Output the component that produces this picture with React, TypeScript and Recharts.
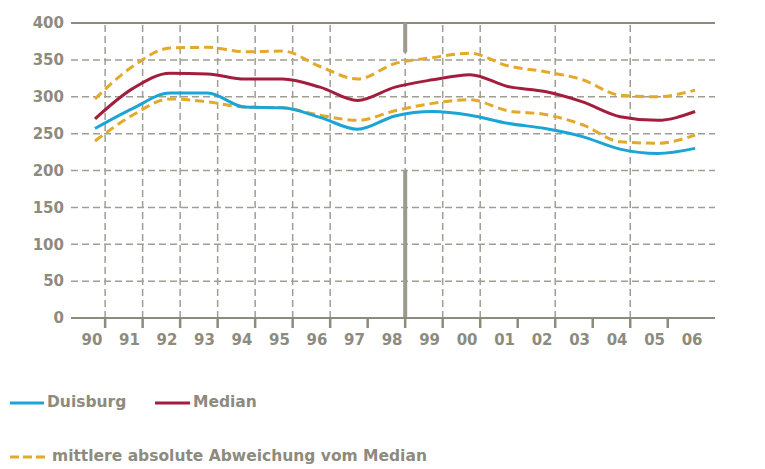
import React from 'react';
import { LineChart, Line, XAxis, YAxis, CartesianGrid, ReferenceLine } from 'recharts';

const years = ['90', '91', '92', '93', '94', '95', '96', '97', '98', '99', '00', '01', '02', '03', '04', '05', '06'];
const duisburg = [257, 284, 305, 305, 286, 285, 272, 256, 274, 280, 275, 264, 257, 246, 229, 223, 230];
const median = [270, 311, 332, 331, 324, 324, 313, 295, 313, 323, 330, 314, 307, 293, 273, 268, 280];
const upperDev = [297, 341, 366, 367, 361, 362, 341, 324, 345, 353, 359, 342, 334, 323, 302, 300, 309];
const lowerDev = [240, 275, 297, 293, 286, 285, 275, 268, 281, 291, 296, 281, 276, 262, 239, 237, 248];
const yTicks = [0, 50, 100, 150, 200, 250, 300, 350, 400];
const gridYears = ['90', '91', '92', '93', '94', '95', '96', '99', '00', '02', '04'];
const heavyYear = '98';

const TICK_SHIFT = 0.27;
const GREY = '#8d8b7e';
const GRID = '#a09e93';
const FONT = '"DejaVu Sans", sans-serif';

const data = years.map((y, i) => ({
  x: i,
  year: y,
  duisburg: duisburg[i],
  median: median[i],
  upper: upperDev[i],
  lower: lowerDev[i],
}));

const XTick = (props: any) => {
  const { x, y, payload, index } = props;
  const shiftPx = 37.5 * TICK_SHIFT;
  return (
    <g>
      {index < years.length - 1 && (
        <line x1={x + shiftPx} x2={x + shiftPx} y1={y - 1} y2={y + 8} stroke={GREY} strokeWidth={2.5} />
      )}
      <text x={x - 3} y={y + 25} textAnchor="middle" fill={GREY} fontFamily={FONT} fontWeight="bold" fontSize={15}>
        {years[payload.value]}
      </text>
    </g>
  );
};

export default function App() {
  return (
    <div style={{ position: 'absolute', left: 0, top: 0, width: 765, height: 469, background: '#fff' }}>
      <LineChart width={765} height={469} data={data} margin={{ top: 23, right: 0, left: 0, bottom: 121 }}>
        <CartesianGrid vertical={false} stroke={GRID} strokeDasharray="7 4" strokeWidth={1.5} />
        <XAxis
          dataKey="x"
          type="number"
          domain={[-0.64, 16.53]}
          ticks={years.map((_, i) => i)}
          interval={0}
          height={30}
          tickLine={false}
          tickSize={0}
          axisLine={{ stroke: GREY, strokeWidth: 2 }}
          tick={<XTick />}
        />
        <YAxis
          domain={[0, 400]}
          ticks={yTicks}
          width={71}
          tickLine={false}
          axisLine={false}
          tickSize={0}
          tickMargin={7}
          tick={{ fill: GREY, fontFamily: FONT, fontWeight: 'bold', fontSize: 15 }}
        />
        <YAxis
          yAxisId="right"
          orientation="right"
          domain={[0, 400]}
          ticks={yTicks}
          width={50}
          tickLine={false}
          axisLine={false}
          tickSize={0}
          tickMargin={14}
          tick={{ fill: GREY, fontFamily: FONT, fontWeight: 'bold', fontSize: 15 }}
        />
        <ReferenceLine y={400} stroke={GREY} strokeWidth={2} />
        {gridYears.map((yr) => (
          <ReferenceLine key={yr} x={years.indexOf(yr) + TICK_SHIFT} stroke={GRID} strokeDasharray="7 4" strokeWidth={1.5} />
        ))}
        <ReferenceLine x={years.indexOf(heavyYear) + TICK_SHIFT} stroke={GRID} strokeDasharray="7 4" strokeWidth={1.5} />
        <ReferenceLine
          segment={[{ x: years.indexOf(heavyYear) + TICK_SHIFT, y: 0 }, { x: years.indexOf(heavyYear) + TICK_SHIFT, y: 200 }]}
          stroke="#9c9a8e"
          strokeWidth={4}
        />
        <ReferenceLine
          segment={[{ x: years.indexOf(heavyYear) + TICK_SHIFT, y: 360 }, { x: years.indexOf(heavyYear) + TICK_SHIFT, y: 400 }]}
          stroke="#9c9a8e"
          strokeWidth={4}
        />
        <Line type="monotone" dataKey="upper" stroke="#e2a92a" strokeWidth={3} strokeDasharray="9 5" dot={false} isAnimationActive={false} />
        <Line type="monotone" dataKey="lower" stroke="#e2a92a" strokeWidth={3} strokeDasharray="9 5" dot={false} isAnimationActive={false} />
        <Line type="monotone" dataKey="median" stroke="#a31d3d" strokeWidth={3} dot={false} isAnimationActive={false} />
        <Line type="monotone" dataKey="duisburg" stroke="#1aa5d6" strokeWidth={3} dot={false} isAnimationActive={false} />
      </LineChart>
      <div style={{ position: 'absolute', left: 0, top: 0, width: 765, height: 469, pointerEvents: 'none', fontFamily: FONT, fontWeight: 'bold', fontSize: 15.5, color: GREY }}>
        <svg style={{ position: 'absolute', left: 10, top: 401 }} width={34} height={4}>
          <line x1={0} x2={34} y1={2} y2={2} stroke="#1aa5d6" strokeWidth={3} />
        </svg>
        <div style={{ position: 'absolute', left: 47, top: 393, lineHeight: '18px' }}>Duisburg</div>
        <svg style={{ position: 'absolute', left: 155, top: 401 }} width={35} height={4}>
          <line x1={0} x2={35} y1={2} y2={2} stroke="#a31d3d" strokeWidth={3} />
        </svg>
        <div style={{ position: 'absolute', left: 193, top: 393, lineHeight: '18px' }}>Median</div>
        <svg style={{ position: 'absolute', left: 10, top: 455 }} width={36} height={4}>
          <line x1={0} x2={36} y1={2} y2={2} stroke="#e2a92a" strokeWidth={3} strokeDasharray="9 4" />
        </svg>
        <div style={{ position: 'absolute', left: 52, top: 447, lineHeight: '18px' }}>mittlere absolute Abweichung vom Median</div>
      </div>
    </div>
  );
}
